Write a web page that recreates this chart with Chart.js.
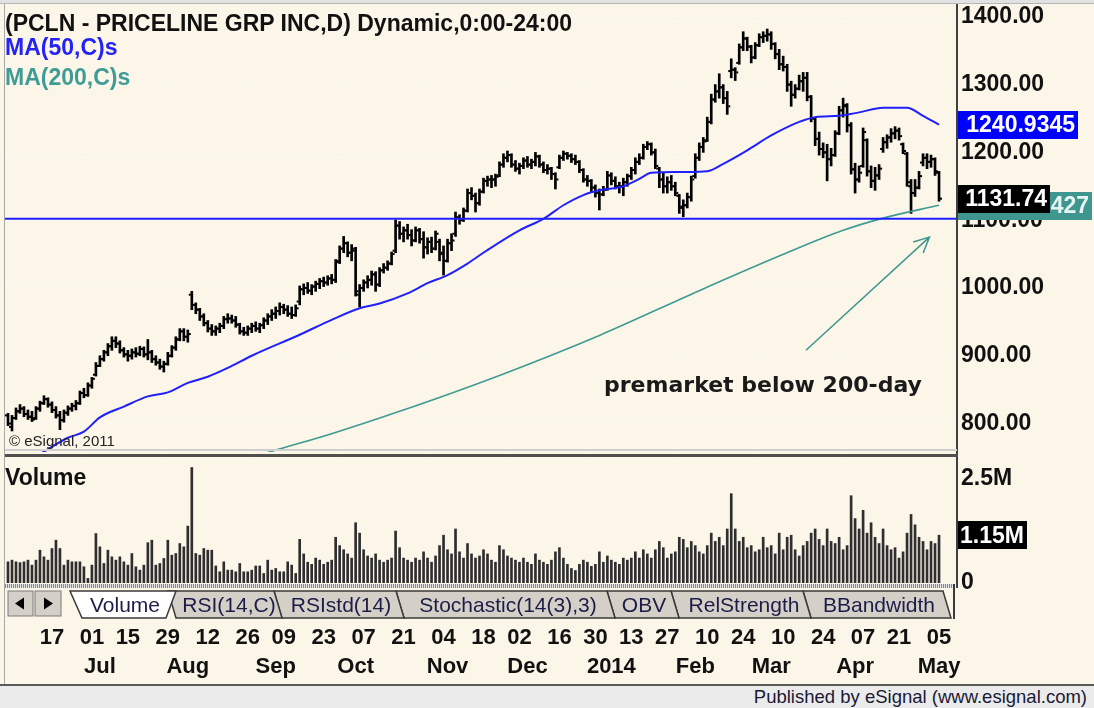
<!DOCTYPE html>
<html><head><meta charset="utf-8">
<script src="https://cdn.jsdelivr.net/npm/chart.js@4.4.1/dist/chart.umd.min.js"></script>
<style>
html,body{margin:0;padding:0;background:#fff;}
#wrap{position:relative;width:1094px;height:708px;background:#FCF6E9;overflow:hidden;font-family:"Liberation Sans",Arial,sans-serif;}
canvas{position:absolute;left:0;}
.t{position:absolute;white-space:nowrap;line-height:1;}
.b{font-weight:bold;}
.ln{position:absolute;}
</style></head>
<body><div id="wrap">
<canvas id="pc" width="1094" height="456" style="top:0;width:1094px;height:456px"></canvas>
<canvas id="vc" width="1094" height="230" style="top:456px;width:1094px;height:230px"></canvas>

<div class="ln" style="left:0;top:0;width:1094px;height:3px;background:#E2E2E2;border-bottom:1px solid #B8B8B8"></div>
<div class="ln" style="left:4px;top:4px;width:1px;height:682px;background:#A8A8A8"></div>
<div class="ln" style="left:956px;top:4px;width:2px;height:584px;background:#404040"></div>
<div class="ln" style="left:5px;top:449px;width:952px;height:2px;background:#CFCFCF"></div>
<div class="ln" style="left:5px;top:454px;width:953px;height:3px;background:#505050"></div>
<div class="ln" style="left:5px;top:584px;width:950px;height:4px;background:repeating-linear-gradient(90deg,#8a8a8a 0 1px,#e2e2e2 1px 2px)"></div>

<svg style="position:absolute;left:0;top:584px" width="960" height="38" font-family="Liberation Sans, Arial, sans-serif" font-size="21">
  <rect x="8" y="7" width="25" height="25" fill="#D4D0C8" stroke="#7a7a7a"/>
  <polygon points="15,19.5 24,13.5 24,25.5" fill="#000"/>
  <rect x="35" y="7" width="26" height="25" fill="#D4D0C8" stroke="#7a7a7a"/>
  <polygon points="53,19.5 44,13.5 44,25.5" fill="#000"/>
  <g stroke="#3a3a3a" stroke-width="1.5" fill="#D4D0C8">
    <polygon points="803,7 943,7 951,34 811,34"/>
    <polygon points="671,7 803,7 811,34 679,34"/>
    <polygon points="607,7 671,7 679,34 615,34"/>
    <polygon points="396,7 607,7 615,34 404,34"/>
    <polygon points="274,7 396,7 404,34 282,34"/>
    <polygon points="168,7 274,7 282,34 176,34"/>
    <polygon points="70,7 176,7 166,34 82,34" fill="#FFFFFF"/>
  </g>
  <line x1="954" y1="0" x2="954" y2="35" stroke="#3a3a3a" stroke-width="2"/>
  <g fill="#1c1c48" text-anchor="middle">
    <text x="125" y="28">Volume</text>
    <text x="229" y="28">RSI(14,C)</text>
    <text x="341" y="28">RSIstd(14)</text>
    <text x="508" y="28">Stochastic(14(3),3)</text>
    <text x="644" y="28">OBV</text>
    <text x="744" y="28">RelStrength</text>
    <text x="879" y="28">BBandwidth</text>
  </g>
</svg>

<div class="ln" style="left:0;top:684px;width:1094px;height:2px;background:#5a5a5a"></div>
<div class="ln" style="left:0;top:686px;width:1094px;height:22px;background:#EBEBEB"></div>
<div class="t" style="right:7px;top:688px;font-size:18.5px;color:#1a1a33">Published by eSignal (www.esignal.com)</div>

<div class="t b" style="left:5px;top:12px;font-size:23px;color:#111">(PCLN - PRICELINE GRP INC,D) Dynamic,0:00-24:00</div>
<div class="t b" style="left:5px;top:36px;font-size:23px;color:#2323F5">MA(50,C)s</div>
<div class="t b" style="left:5px;top:66px;font-size:23px;color:#3F9B95">MA(200,C)s</div>
<div class="t" style="left:9px;top:433px;font-size:15px;color:#222">© eSignal, 2011</div>
<div class="t b" style="left:5px;top:466px;font-size:23px;color:#111">Volume</div>
<div class="t b" style="left:604px;top:374px;font-size:22px;font-family:'DejaVu Sans',sans-serif;color:#1a1a1a">premarket below 200-day</div>
</div>

<script>
// ---------- categories ----------
const holidays = ['2013-07-04','2013-09-02','2013-11-28','2013-12-25','2014-01-01','2014-01-20','2014-02-17','2014-04-18'];
const dates = [];
for (let d = new Date(Date.UTC(2013,4,31)); d <= new Date(Date.UTC(2014,4,5)); d.setUTCDate(d.getUTCDate()+1)) {
  const wd = d.getUTCDay(), s = d.toISOString().slice(0,10);
  if (wd !== 0 && wd !== 6 && !holidays.includes(s)) dates.push(s);
}
const padSlots = ['pad1','pad2','pad3','pad4'];
const labels = dates.concat(padSlots);

// ---------- tick labels ----------
const dayTickDates = ['2013-06-17','2013-07-01','2013-07-15','2013-07-29','2013-08-12','2013-08-26','2013-09-09','2013-09-23','2013-10-07','2013-10-21','2013-11-04','2013-11-18','2013-12-02','2013-12-16','2013-12-30','2014-01-13','2014-01-27','2014-02-10','2014-02-24','2014-03-10','2014-03-24','2014-04-07','2014-04-21','2014-05-05'];
const dayTickText = ['17','01','15','29','12','26','09','23','07','21','04','18','02','16','30','13','27','10','24','10','24','07','21','05'];
const monthTickDates = ['2013-07-01','2013-08-01','2013-09-03','2013-10-01','2013-11-01','2013-12-02','2014-01-02','2014-02-03','2014-03-03','2014-04-01','2014-05-01'];
const monthTickText = ['Jul','Aug','Sep','Oct','Nov','Dec','2014','Feb','Mar','Apr','May'];
const priceTicks = [800,900,1000,1100,1200,1300,1400];
const volTicks = [0, 2.5];
const gridIdx = [19,40,62,83,106,126,146,167,187,209];

// ---------- series ----------
const open = [812,795,808,818,822,814,810,808,822,830,
836,828,820,812,805,816,822,826,830,845,
842,856,872,885,895,905,914,922,918,908,
902,900,905,903,910,902,905,895,890,884,
888,900,912,924,936,928,990,975,968,958,
948,940,936,940,944,954,955,952,946,936,
934,940,944,940,945,952,958,962,966,972,
968,962,960,980,998,1000,996,1002,1006,1010,
1008,1014,1012,1040,1058,1066,1052,1055,990,1000,
1008,1012,1020,1005,1026,1030,1036,1055,1092,1080,
1085,1078,1070,1085,1072,1060,1068,1058,1068,1050,
1040,1066,1080,1104,1100,1114,1140,1136,1125,1142,
1158,1160,1160,1166,1182,1192,1196,1182,1176,1180,
1188,1182,1186,1194,1182,1174,1176,1168,1178,1192,
1198,1195,1190,1186,1174,1160,1158,1148,1140,1138,
1145,1166,1158,1150,1150,1156,1165,1174,1186,1192,
1208,1212,1200,1176,1160,1150,1156,1150,1136,1118,
1122,1134,1165,1192,1208,1218,1245,1278,1290,1296,
1280,1320,1322,1332,1355,1368,1356,1340,1358,1370,
1372,1374,1360,1345,1330,1326,1300,1285,1294,1305,
1310,1282,1250,1220,1205,1200,1190,1196,1228,1262,
1268,1240,1175,1160,1180,1218,1172,1158,1166,1205,
1215,1222,1228,1232,1212,1198,1150,1140,1148,1185,
1192,1186,1190,1170];
const high = [815,812,823,828,825,820,818,825,833,841,
838,832,825,818,820,826,830,834,848,852,
860,868,890,900,908,918,928,928,922,912,
908,910,912,914,913,924,908,900,895,892,
905,915,928,940,940,938,995,978,970,962,
952,946,944,948,958,962,960,958,948,942,
944,948,950,948,956,962,968,972,978,976,
974,972,975,1003,1006,1008,1005,1010,1014,1016,
1018,1020,1042,1062,1076,1068,1064,1060,1005,1012,
1018,1025,1024,1030,1036,1040,1053,1100,1098,1090,
1094,1086,1090,1088,1083,1074,1075,1084,1072,1062,
1072,1080,1112,1108,1118,1146,1148,1140,1146,1162,
1165,1166,1168,1186,1198,1202,1198,1188,1184,1192,
1194,1190,1200,1196,1186,1182,1178,1170,1196,1202,
1200,1198,1196,1188,1176,1166,1160,1152,1146,1150,
1172,1170,1164,1156,1162,1168,1178,1192,1198,1212,
1216,1214,1205,1178,1170,1164,1166,1156,1138,1130,
1140,1165,1198,1214,1222,1252,1286,1300,1316,1300,
1290,1338,1325,1360,1378,1370,1358,1362,1375,1378,
1382,1378,1362,1352,1342,1330,1305,1300,1314,1318,
1318,1284,1252,1230,1214,1212,1206,1232,1268,1280,
1272,1244,1184,1180,1236,1220,1180,1178,1182,1222,
1226,1235,1238,1236,1214,1200,1160,1160,1172,1198,
1198,1196,1192,1172];
const low = [797,789,806,815,810,806,803,806,818,828,
824,816,808,791,802,812,818,820,828,838,
840,852,870,884,892,900,908,912,904,898,
892,895,898,900,898,894,890,886,880,876,
886,898,908,922,922,920,968,962,952,944,
935,930,930,934,940,948,948,942,932,930,
930,934,936,934,940,946,952,955,960,962,
958,955,958,975,990,992,990,995,999,1002,
1004,1006,1008,1036,1052,1046,1040,988,972,995,
1000,1004,995,1002,1022,1026,1034,1052,1072,1068,
1072,1062,1068,1066,1044,1050,1052,1056,1040,1019,
1038,1055,1076,1094,1098,1112,1130,1112,1122,1140,
1150,1148,1150,1164,1178,1186,1178,1172,1168,1176,
1178,1176,1180,1178,1170,1168,1160,1146,1176,1188,
1190,1185,1182,1170,1156,1150,1142,1134,1115,1136,
1144,1152,1146,1140,1136,1150,1160,1168,1182,1190,
1204,1196,1176,1148,1140,1140,1144,1136,1110,1105,
1118,1128,1162,1188,1200,1216,1242,1274,1280,1272,
1256,1310,1306,1330,1350,1350,1332,1338,1356,1362,
1364,1352,1338,1322,1320,1290,1268,1280,1292,1290,
1276,1245,1210,1196,1192,1158,1180,1194,1226,1252,
1230,1168,1140,1156,1178,1165,1148,1144,1160,1200,
1206,1215,1220,1218,1198,1150,1110,1135,1146,1180,
1176,1178,1166,1128];
const close = [800,808,818,822,814,810,806,822,830,836,
828,820,812,805,816,822,826,830,845,842,
856,866,885,895,905,914,922,918,908,902,
900,905,903,910,902,905,895,890,884,888,
900,912,924,936,928,932,975,968,958,948,
940,936,940,944,954,955,952,946,936,934,
940,944,940,945,952,958,962,966,972,968,
962,960,970,998,1000,996,1002,1006,1010,1008,
1014,1012,1038,1058,1066,1052,1058,995,1000,1008,
1012,1020,1005,1026,1030,1036,1050,1092,1080,1085,
1078,1070,1085,1072,1060,1068,1058,1080,1052,1040,
1066,1070,1104,1100,1114,1140,1136,1125,1142,1158,
1160,1160,1164,1182,1192,1196,1182,1176,1180,1188,
1182,1186,1194,1182,1174,1176,1168,1160,1192,1198,
1195,1190,1186,1174,1160,1158,1148,1140,1138,1145,
1166,1158,1150,1150,1156,1165,1174,1186,1192,1208,
1212,1200,1180,1160,1150,1156,1150,1140,1120,1122,
1134,1160,1192,1208,1216,1245,1278,1290,1296,1280,
1268,1322,1318,1355,1368,1356,1340,1358,1370,1372,
1374,1360,1345,1330,1326,1300,1285,1294,1305,1310,
1282,1250,1220,1205,1200,1190,1196,1228,1262,1270,
1240,1175,1160,1170,1230,1172,1158,1166,1176,1215,
1222,1228,1232,1224,1202,1156,1140,1148,1165,1192,
1186,1190,1172,1131.74];
const volumeM = [.51,.55,.51,.49,.51,.55,.43,.55,.79,.63,
.55,.83,1.03,.83,.43,.55,.51,.51,.51,.39,
.11,.43,1.19,.87,.47,.79,.63,.55,.63,.51,
.43,.71,.39,.31,.43,.97,1.03,.43,.47,.59,
1.03,.67,.71,.95,.87,1.37,2.78,.71,.67,.83,
.79,.79,.41,.27,.51,.31,.31,.27,.47,.27,
.27,.31,.41,.41,.23,.55,.31,.35,.27,.27,
.51,.43,.23,1.05,.7,.5,.45,.6,.55,.45,
.5,.55,1.1,.9,.8,.7,.6,1.45,1.2,.8,
.65,.6,.7,.55,.5,.55,.6,1.25,.85,.6,
.55,.5,.6,.55,.75,.6,.5,.65,.9,1.15,
.8,.7,1.3,.75,.6,.95,.7,.6,.65,.8,
.7,.55,.5,.9,.8,.65,.6,.55,.5,.6,
.5,.45,.7,.55,.5,.45,.55,.75,.85,.6,
.45,.35,.3,.45,.55,.5,.4,.45,.75,.5,
.65,.55,.5,.45,.6,.55,.6,.75,.6,.8,
.7,.6,.8,1.0,.85,.6,.7,.75,1.1,1.05,
.85,1.0,.9,.75,.7,.9,1.2,1.0,1.1,.9,
1.3,2.15,1.3,1.0,1.1,.85,.9,.75,.8,1.1,
.85,.9,.7,1.2,.8,1.1,1.15,.8,.65,.9,
1.0,1.2,1.3,1.05,.9,1.3,1.0,.95,1.1,.8,
.9,2.1,1.55,1.3,1.75,1.2,1.45,1.1,.95,1.3,
.9,.8,.85,.6,.75,1.2,1.65,1.4,1.1,1.0,
.8,1.0,.95,1.15];
// moving averages: [bar index, value]
const ma50Pts = [[8,755],[15,779],[19,788],[23,809],[29,825],[35,840],[40,846],[45,860],[50,869],[55,882],[61,900],[73,931],[81,953],[88,970],[93,977],[100,992],[105,1007],[110,1019],[115,1036],[120,1056],[128,1085],[134,1102],[139,1122],[144,1137],[148,1144],[154,1150],[158,1161],[161,1170],[167,1171],[170,1171],[175,1172],[179,1183],[185,1203],[191,1225],[198,1245],[202,1252],[208,1254],[213,1259],[219,1266],[225,1266],[229,1254],[233,1241]];
const ma200Pts = [[61,750],[66,759],[81,785],[98,818],[123,871],[148,930],[173,996],[193,1047],[209,1085],[219,1103],[233,1122]];
const supportLevel = 1102;
const arrowFrom = [199.7, 908];
const arrowTo = [230.6, 1075];
const lastMa50Text = '1240.9345', lastMa200Text = '1122.1427', lastCloseText = '1131.74', lastVolText = '1.15M';
const lastMa50 = 1241, lastMa200 = 1121, lastClose = 1131.74, lastVol = 1.15;

// ---------- helpers ----------
const dayMap = new Map(dayTickDates.map((d,k)=>[d, dayTickText[k]]));
const monthMap = new Map(monthTickDates.map((d,k)=>[d, monthTickText[k]]));
const gridColor = c => gridIdx.includes(c.index) ? 'rgba(255,255,255,0.95)' : 'rgba(0,0,0,0)';
const FONT = 'Liberation Sans';
Chart.defaults.font.family = FONT;

const common = {
  responsive: false, animation: false, devicePixelRatio: 1, events: [],
  plugins: {legend: {display: false}, tooltip: {enabled: false}}
};

function drawBox(ctx, yPix, text, bg, right, fg) {
  ctx.save();
  ctx.font = 'bold 23px ' + FONT;
  ctx.fillStyle = bg;
  ctx.fillRect(958, Math.round(yPix - 14), right - 958, 28);
  ctx.fillStyle = fg || '#fff';
  ctx.textBaseline = 'middle';
  ctx.textAlign = 'right';
  ctx.fillText(text, right - 3, yPix + 1);
  ctx.restore();
}

const ohlcPlugin = {
  id: 'ohlcTicks',
  afterDatasetDraw(chart, args) {
    if (args.index !== 0) return;
    const {ctx, scales: {y}} = chart;
    ctx.save();
    ctx.fillStyle = '#000';
    args.meta.data.forEach((el, k) => {
      const yo = y.getPixelForValue(open[k]), yc = y.getPixelForValue(close[k]);
      ctx.fillRect(el.x - 3, yo - 1, 2, 2);
      ctx.fillRect(el.x + 1, yc - 1, 2, 2);
    });
    ctx.restore();
  }
};

const priceOverlay = {
  id: 'priceOverlay',
  afterDatasetsDraw(chart) {
    const {ctx, chartArea: a, scales: {x, y}} = chart;
    ctx.save();
    const ys = y.getPixelForValue(supportLevel);
    ctx.strokeStyle = '#1F1FFF'; ctx.lineWidth = 2;
    ctx.beginPath(); ctx.moveTo(a.left - 1, ys); ctx.lineTo(a.right, ys); ctx.stroke();
    const x1 = x.getPixelForValue(arrowFrom[0]), y1 = y.getPixelForValue(arrowFrom[1]);
    const x2 = x.getPixelForValue(arrowTo[0]), y2 = y.getPixelForValue(arrowTo[1]);
    ctx.strokeStyle = '#3F9690'; ctx.lineWidth = 1.5;
    ctx.beginPath(); ctx.moveTo(x1, y1); ctx.lineTo(x2, y2);
    const ang = Math.atan2(y1 - y2, x1 - x2);
    ctx.moveTo(x2 + 17 * Math.cos(ang + 0.45), y2 + 17 * Math.sin(ang + 0.45));
    ctx.lineTo(x2, y2);
    ctx.lineTo(x2 + 17 * Math.cos(ang - 0.45), y2 + 17 * Math.sin(ang - 0.45));
    ctx.stroke();
    ctx.restore();
  },
  afterDraw(chart) {
    const {ctx, scales: {y}} = chart;
    drawBox(ctx, y.getPixelForValue(lastMa50), lastMa50Text, '#0000FF', 1078);
    drawBox(ctx, y.getPixelForValue(lastMa200), lastMa200Text, '#3E968F', 1092, '#E8F4F2');
    drawBox(ctx, y.getPixelForValue(lastClose), lastCloseText, '#000000', 1050);
  }
};

const volOverlay = {
  id: 'volOverlay',
  afterDraw(chart) {
    drawBox(chart.ctx, chart.scales.yv.getPixelForValue(lastVol), lastVolText, '#000000', 1027);
  }
};

new Chart(document.getElementById('pc'), {
  type: 'bar',
  data: {
    labels,
    datasets: [
      {type: 'bar', data: low.map((l, k) => [l, high[k]]), backgroundColor: '#000', barThickness: 2, order: 2},
      {type: 'line', data: ma50Pts.map(([k, v]) => ({x: dates[k], y: v})), borderColor: '#2020FF', borderWidth: 2, pointRadius: 0, cubicInterpolationMode: 'monotone', order: 1},
      {type: 'line', data: ma200Pts.map(([k, v]) => ({x: dates[k], y: v})), borderColor: '#3E9A92', borderWidth: 1.6, pointRadius: 0, cubicInterpolationMode: 'monotone', order: 1}
    ]
  },
  options: {
    ...common,
    layout: {padding: {left: 6, right: 0, top: 8, bottom: 4}, autoPadding: false},
    scales: {
      x: {type: 'category', offset: true,
          ticks: {display: false},
          grid: {color: gridColor, drawTicks: false, offset: true},
          border: {display: false, dash: [1, 3]},
          afterFit: s => { s.height = 0; s.paddingLeft = 0; s.paddingRight = 0; }},
      y: {position: 'right', min: 758, max: 1413,
          afterBuildTicks: s => { s.ticks = priceTicks.map(v => ({value: v})); },
          afterFit: s => { s.width = 137; s.paddingTop = 0; s.paddingBottom = 0; },
          ticks: {callback: v => v.toFixed(2), color: '#111', padding: 4, font: {family: FONT, weight: 'bold', size: 23}},
          grid: {color: 'rgba(255,255,255,0.95)', drawTicks: false},
          border: {display: false, dash: [1, 3]}}
    }
  },
  plugins: [ohlcPlugin, priceOverlay]
});

new Chart(document.getElementById('vc'), {
  type: 'bar',
  data: {
    labels,
    datasets: [{data: volumeM, backgroundColor: '#2e2e2e', barThickness: 2, xAxisID: 'xd', yAxisID: 'yv'}]
  },
  options: {
    ...common,
    layout: {padding: {left: 6, right: 0, top: 4, bottom: 5}, autoPadding: false},
    scales: {
      xd: {type: 'category', position: 'bottom', weight: 0, offset: true,
           afterFit: s => { s.height = 68; s.paddingLeft = 0; s.paddingRight = 0; },
           ticks: {autoSkip: false, maxRotation: 0, minRotation: 0, padding: 42, color: '#111',
                   font: {family: FONT, weight: 'bold', size: 22},
                   callback(v) { return dayMap.get(this.getLabelForValue(v)) || ''; }},
           grid: {color: gridColor, drawTicks: false, offset: true},
           border: {display: false, dash: [1, 3]}},
      xm: {type: 'category', position: 'bottom', weight: 1, offset: true,
           afterFit: s => { s.height = 30; s.paddingLeft = 0; s.paddingRight = 0; },
           ticks: {autoSkip: false, maxRotation: 0, minRotation: 0, padding: 3, labelOffset: 8, color: '#111',
                   font: {family: FONT, weight: 'bold', size: 22},
                   callback(v) { return monthMap.get(this.getLabelForValue(v)) || ''; }},
           grid: {display: false, drawTicks: false},
           border: {display: false}},
      yv: {position: 'right', min: 0, max: 2.96,
           afterBuildTicks: s => { s.ticks = volTicks.map(v => ({value: v})); },
           afterFit: s => { s.width = 137; s.paddingTop = 0; s.paddingBottom = 0; },
           ticks: {callback: v => v === 0 ? '0' : v + 'M', color: '#111', padding: 4, font: {family: FONT, weight: 'bold', size: 23}},
           grid: {display: false, drawTicks: false},
           border: {display: false}}
    }
  },
  plugins: [volOverlay]
});
</script>
</body></html>
